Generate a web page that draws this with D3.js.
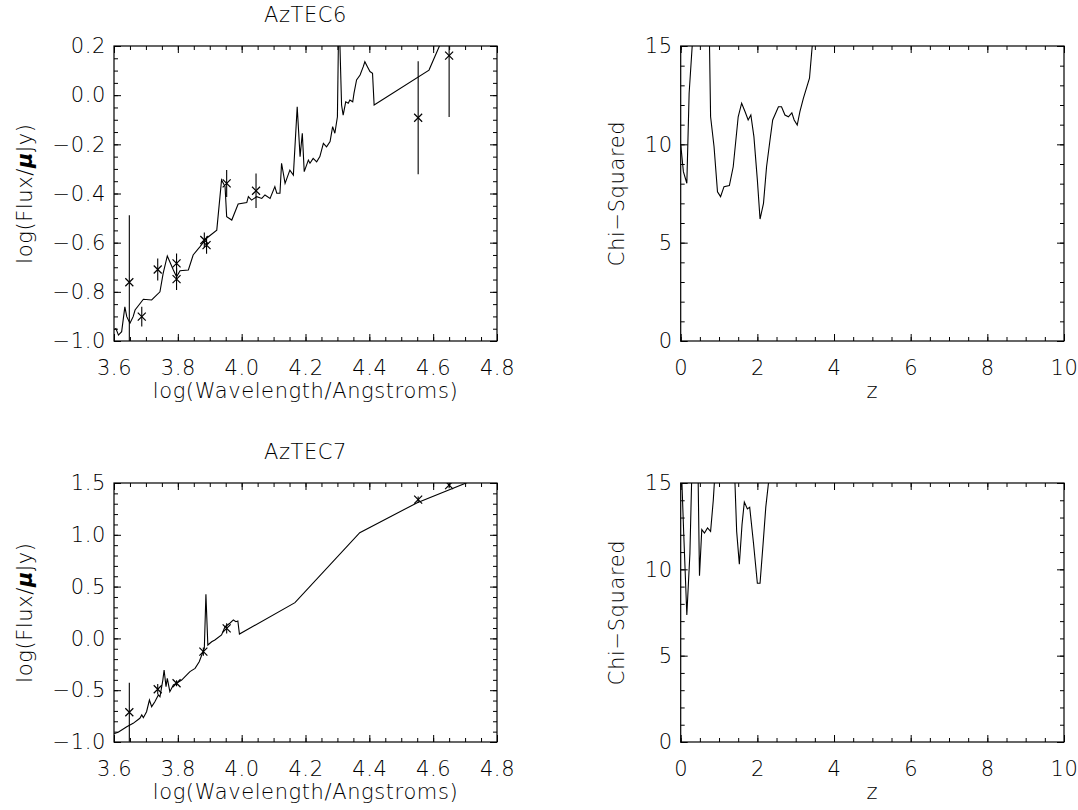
<!DOCTYPE html>
<html>
<head>
<meta charset="utf-8">
<script src="https://cdn.jsdelivr.net/npm/d3@7"></script>
<style>
body { margin: 0; background: #fff; }
text { font-family: "DejaVu Sans", sans-serif; font-size: 21px; font-weight: 300; fill: #000; letter-spacing: 0.6px; }
</style>
</head>
<body>
<svg width="1078" height="810"></svg>
<script>
// **** data ****

// AzTEC6 SED model: log wavelength, log flux
var sed6Wave = [3.598,3.606,3.614,3.624,3.634,3.640,3.650,3.660,3.666,3.692,3.718,3.744,3.754,3.767,3.786,3.796,3.807,3.833,3.848,3.869,3.890,3.922,3.937,3.948,3.953,3.969,3.989,4.016,4.021,4.031,4.047,4.063,4.073,4.089,4.104,4.110,4.120,4.125,4.136,4.151,4.162,4.174,4.183,4.190,4.196,4.209,4.214,4.224,4.235,4.245,4.256,4.266,4.277,4.285,4.292,4.300,4.306,4.308,4.313,4.318,4.326,4.334,4.339,4.348,4.352,4.360,4.371,4.381,4.386,4.394,4.402,4.410,4.415,4.587,4.621,4.700];
var sed6Flux = [-0.955,-0.949,-0.976,-0.962,-0.861,-0.901,-0.928,-0.901,-0.874,-0.830,-0.833,-0.800,-0.725,-0.654,-0.711,-0.739,-0.714,-0.711,-0.650,-0.617,-0.582,-0.549,-0.345,-0.372,-0.494,-0.508,-0.443,-0.437,-0.413,-0.427,-0.413,-0.420,-0.406,-0.420,-0.372,-0.399,-0.399,-0.277,-0.359,-0.305,-0.325,-0.047,-0.250,-0.155,-0.311,-0.264,-0.277,-0.257,-0.271,-0.250,-0.196,-0.210,-0.189,-0.128,-0.155,-0.088,0.500,0.197,-0.040,-0.081,-0.027,-0.033,-0.020,-0.027,0.008,0.062,0.082,0.116,0.136,0.116,0.096,0.089,-0.040,0.102,0.204,0.420];

// AzTEC6 photometry
var phot6Wave = [3.648,3.687,3.737,3.796,3.796,3.883,3.890,3.953,4.045,4.553,4.650];
var phot6Flux = [-0.761,-0.901,-0.709,-0.684,-0.748,-0.589,-0.610,-0.359,-0.389,-0.092,0.161];
var phot6Err  = [0.273,0.040,0.045,0.040,0.045,0.030,0.035,0.055,0.070,0.230,0.250];

// AzTEC6 chi-squared against redshift
var chi6Z   = [0.00,0.07,0.16,0.22,0.31,0.40,0.55,0.70,0.74,0.78,0.87,0.96,1.04,1.13,1.27,1.37,1.50,1.59,1.68,1.76,1.83,1.91,2.00,2.07,2.16,2.24,2.33,2.40,2.55,2.63,2.72,2.81,2.90,2.96,3.04,3.11,3.20,3.36,3.44,3.52];
var chi6Val = [10.0,8.61,8.02,12.6,15.3,19.0,22.0,18.0,16.5,11.4,9.88,7.59,7.34,7.85,7.90,8.86,11.4,12.09,11.66,11.24,11.49,10.39,8.19,6.20,7.00,8.86,10.22,11.24,11.91,11.91,11.49,11.40,11.60,11.24,10.98,11.66,12.34,13.36,15.2,17.0];

// AzTEC7 SED model
var sed7Wave = [3.598,3.613,3.640,3.660,3.681,3.687,3.692,3.702,3.711,3.718,3.728,3.739,3.744,3.753,3.757,3.763,3.767,3.775,3.786,3.796,3.812,3.828,3.838,3.854,3.867,3.875,3.883,3.888,3.894,3.906,3.916,3.937,3.948,3.963,3.974,3.982,3.988,3.993,4.167,4.370,4.550,4.800];
var sed7Flux = [-0.923,-0.906,-0.852,-0.820,-0.771,-0.739,-0.765,-0.708,-0.595,-0.659,-0.611,-0.546,-0.563,-0.402,-0.305,-0.466,-0.385,-0.514,-0.450,-0.433,-0.402,-0.353,-0.321,-0.289,-0.225,-0.160,-0.096,0.426,-0.064,-0.032,-0.015,0.033,0.113,0.146,0.178,0.161,0.168,0.042,0.345,1.020,1.310,1.620];

// AzTEC7 photometry
var phot7Wave = [3.648,3.737,3.796,3.880,3.953,4.553,4.650];
var phot7Flux = [-0.713,-0.491,-0.433,-0.128,0.097,1.340,1.480];
var phot7Err  = [0.285,0.050,0.030,0.040,0.050,0.030,0.030];

// AzTEC7 chi-squared against redshift
var chi7Z   = [0.00,0.08,0.16,0.24,0.30,0.45,0.49,0.55,0.62,0.70,0.78,0.85,0.92,1.20,1.40,1.46,1.53,1.60,1.66,1.74,1.80,1.90,2.00,2.07,2.15,2.22,2.32];
var chi7Val = [17.0,12.0,7.35,10.9,16.5,16.0,9.63,12.3,12.1,12.4,12.2,14.0,16.5,20.0,16.0,12.2,10.29,12.6,13.9,13.5,13.6,11.5,9.19,9.19,11.5,13.6,15.6];

// ticks
var waveMajor = [3.6,3.8,4.0,4.2,4.4,4.6,4.8];
var waveMinor = d3.range(3.6,4.8001,0.05);
var flux6Major = [-1.0,-0.8,-0.6,-0.4,-0.2,0.0,0.2];
var flux6Minor = d3.range(-1.0,0.2001,0.05);
var flux7Major = [-1.0,-0.5,0.0,0.5,1.0,1.5];
var flux7Minor = d3.range(-1.0,1.5001,0.1);
var zMajor = [0,2,4,6,8,10];
var zMinor = d3.range(0,10.001,0.5);
var chiMajor = [0,5,10,15];
var chiMinor = d3.range(0,15.001,1);

var svg = d3.select('svg')
var clipId = 0

/**
 * One framed IDL style panel
 */
function panel(o){
    var x = d3.scaleLinear().domain(o.xDomain).range([o.x0,o.x1])
    var y = d3.scaleLinear().domain(o.yDomain).range([o.y1,o.y0])
    var g = svg.append('g')

    // ticks on all four sides, pointing in
    function ticks(axis, vals, len, fmt, pad){
        return axis.tickValues(vals).tickSizeInner(-len).tickSizeOuter(0)
            .tickPadding(pad || 0).tickFormat(fmt || '')
    }
    var sides = [
        [0, o.y1, d3.axisBottom, x, o.xMajor, o.xMinor, o.xFmt, 19],
        [0, o.y0, d3.axisTop, x, o.xMajor, o.xMinor, null, 0],
        [o.x0, 0, d3.axisLeft, y, o.yMajor, o.yMinor, o.yFmt, 8],
        [o.x1, 0, d3.axisRight, y, o.yMajor, o.yMinor, null, 0]
    ]
    sides.forEach(function(s){
        var tr = 'translate('+s[0]+','+s[1]+')'
        g.append('g').attr('transform',tr)
            .call(ticks(s[2](s[3]), s[5], 4))
        g.append('g').attr('transform',tr)
            .call(ticks(s[2](s[3]), s[4], 7, s[6], s[7]))
    })
    g.selectAll('.domain').remove()
    g.selectAll('.tick line').attr('stroke','#000').attr('stroke-width',1)
    g.selectAll('.tick text').style('font-size','21px').style('font-family','"DejaVu Sans", sans-serif')
        .attr('fill','#000')

    g.append('rect')
    .attr('x',o.x0).attr('y',o.y0)
    .attr('width',o.x1-o.x0).attr('height',o.y1-o.y0)
    .attr('fill','none').attr('stroke','#000').attr('stroke-width',1.2)

    // clip the data to the frame
    var id = 'clip'+(clipId++)
    svg.append('clipPath').attr('id',id)
    .append('rect').attr('x',o.x0).attr('y',o.y0)
    .attr('width',o.x1-o.x0).attr('height',o.y1-o.y0)
    var data = g.append('g').attr('clip-path','url(#'+id+')')

    var line = d3.line()
    .x(function(d){ return x(d[0]) })
    .y(function(d){ return y(d[1]) })
    data.append('path')
    .datum(d3.zip(o.lineX,o.lineY))
    .attr('d',line)
    .attr('fill','none')
    .attr('stroke','#000')
    .attr('stroke-width',1.1)

    if(o.ptX){
        var pts = o.ptX.map(function(v,i){ return {x:v, y:o.ptY[i], e:o.ptE[i]} })
        data.selectAll('line.err')
        .data(pts)
        .enter()
        .append('line')
        .attr('class','err')
        .attr('x1',function(d){ return x(d.x) })
        .attr('x2',function(d){ return x(d.x) })
        .attr('y1',function(d){ return y(d.y-d.e) })
        .attr('y2',function(d){ return y(d.y+d.e) })
        .attr('stroke','#000')
        .attr('stroke-width',1.1)
        data.selectAll('path.mark')
        .data(pts)
        .enter()
        .append('path')
        .attr('class','mark')
        .attr('transform',function(d){ return 'translate('+x(d.x)+','+y(d.y)+')' })
        .attr('d','M-4,-4L4,4M-4,4L4,-4')
        .attr('stroke','#000')
        .attr('stroke-width',1.2)
    }

    /**
     * Labels
     */
    var cx = (o.x0+o.x1)/2, cy = (o.y0+o.y1)/2
    if(o.title){
        svg.append('text').text(o.title)
        .attr('x',cx).attr('y',o.y0-24)
        .style('text-anchor','middle')
    }
    svg.append('text').text(o.xLabel)
    .attr('x',cx).attr('y',o.y1+57)
    .style('text-anchor','middle')

    var yl = svg.append('text')
    .attr('transform','translate('+o.yLabelX+','+cy+') rotate(-90)')
    .attr('dy','0.35em')
    .style('text-anchor','middle')
    o.yLabel.forEach(function(p){
        var t = yl.append('tspan').text(p[0])
        if(p[1]) t.style('font-style','italic').style('font-weight','bold')
    })
}

var fmt1 = d3.format('.1f')
var fmt0 = d3.format('d')
var left = [114,497], right = [680.7,1064]
var top6 = [46,341], bot7 = [483,742]
var fluxLabel = [['log(Flux/'],['\u03bc',true],['Jy)']]
var chiLabel = [['Chi\u2212Squared']]

panel({x0:left[0],x1:left[1],y0:top6[0],y1:top6[1],
    xDomain:[3.6,4.8],yDomain:[-1.0,0.2],
    xMajor:waveMajor,xMinor:waveMinor,yMajor:flux6Major,yMinor:flux6Minor,
    xFmt:fmt1,yFmt:fmt1,title:'AzTEC6',xLabel:'log(Wavelength/Angstroms)',
    yLabel:fluxLabel,yLabelX:25,
    lineX:sed6Wave,lineY:sed6Flux,ptX:phot6Wave,ptY:phot6Flux,ptE:phot6Err})

panel({x0:right[0],x1:right[1],y0:top6[0],y1:top6[1],
    xDomain:[0,10],yDomain:[0,15],
    xMajor:zMajor,xMinor:zMinor,yMajor:chiMajor,yMinor:chiMinor,
    xFmt:fmt0,yFmt:fmt0,xLabel:'z',yLabel:chiLabel,yLabelX:617,
    lineX:chi6Z,lineY:chi6Val})

panel({x0:left[0],x1:left[1],y0:bot7[0],y1:bot7[1],
    xDomain:[3.6,4.8],yDomain:[-1.0,1.5],
    xMajor:waveMajor,xMinor:waveMinor,yMajor:flux7Major,yMinor:flux7Minor,
    xFmt:fmt1,yFmt:fmt1,title:'AzTEC7',xLabel:'log(Wavelength/Angstroms)',
    yLabel:fluxLabel,yLabelX:25,
    lineX:sed7Wave,lineY:sed7Flux,ptX:phot7Wave,ptY:phot7Flux,ptE:phot7Err})

panel({x0:right[0],x1:right[1],y0:bot7[0],y1:bot7[1],
    xDomain:[0,10],yDomain:[0,15],
    xMajor:zMajor,xMinor:zMinor,yMajor:chiMajor,yMinor:chiMinor,
    xFmt:fmt0,yFmt:fmt0,xLabel:'z',yLabel:chiLabel,yLabelX:617,
    lineX:chi7Z,lineY:chi7Val})
</script>
</body>
</html>
